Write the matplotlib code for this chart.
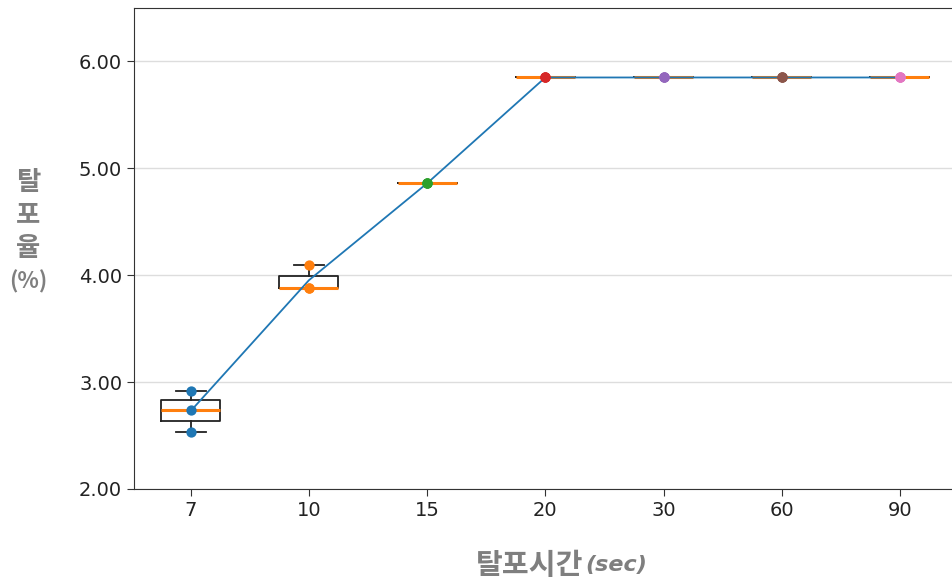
import matplotlib
matplotlib.use("Agg")
import matplotlib.pyplot as plt
import numpy as np

categories = ["7", "10", "15", "20", "30", "60", "90"]
values = [
    [2.53, 2.74, 2.92],
    [3.88, 3.88, 4.10],
    [4.86, 4.86, 4.86],
    [5.85, 5.85, 5.85],
    [5.85, 5.85, 5.85],
    [5.85, 5.85, 5.85],
    [5.85, 5.85, 5.85],
]
y_ticks = [2.0, 3.0, 4.0, 5.0, 6.0]
point_colors = ["#1f77b4", "#ff7f0e", "#2ca02c", "#d62728", "#9467bd", "#8c564b", "#e377c2"]

plt.rcParams['font.family'] = ['DejaVu Sans', 'Noto Sans CJK KR']

fig = plt.figure(figsize=(9.53, 5.82), dpi=100)
ax = fig.add_axes([134/953, 1-489/582, (959-134)/953, (489-8)/582])

pos = np.arange(len(categories))
ax.yaxis.grid(True, color="#dddddd", linewidth=1, zorder=0)
ax.set_axisbelow(True)

ax.boxplot(values, positions=pos, widths=0.5, showfliers=False,
           boxprops=dict(color="#222222", linewidth=1.3),
           whiskerprops=dict(color="#222222", linewidth=1.3),
           capprops=dict(color="#222222", linewidth=1.3),
           medianprops=dict(color="#ff7f0e", linewidth=2.2),
           zorder=2)

means = [np.mean(v) for v in values]
ax.plot(pos, means, color="#1f77b4", linewidth=1.3, zorder=3)

for i, v in enumerate(values):
    ax.scatter([pos[i]] * len(v), v, s=55, color=point_colors[i], zorder=4, linewidths=0)

ax.set_xlim(-0.48, 6.5)
ax.set_ylim(2.0, 6.5)
ax.set_xticks(pos)
ax.set_xticklabels(categories)
ax.set_yticks(y_ticks)
ax.set_yticklabels([f"{t:.2f}" for t in y_ticks])
ax.tick_params(axis="both", labelsize=14, length=5, colors="#333333", labelcolor="#222222")
for s in ax.spines.values():
    s.set_color("#333333")

gray = "#7f7f7f"
cjk = ['Noto Sans CJK KR', 'DejaVu Sans']
for txt, yy, fs in [("탈", 182, 19), ("포", 215, 19), ("율", 248, 19), ("(%)", 282, 16)]:
    fig.text(28/953, 1-yy/582, txt, ha="center", va="center", fontsize=fs,
             fontweight="bold", color=gray, family=cjk)
fig.text(583/953, 1-565/582, "탈포시간", ha="right", va="center", fontsize=21,
         fontweight="bold", color=gray, family=cjk)
fig.text(585/953, 1-565/582, "(sec)", ha="left", va="center", fontsize=16,
         fontweight="bold", style="italic", color=gray, family=['DejaVu Sans'])

fig.savefig("out.png", dpi=100)
